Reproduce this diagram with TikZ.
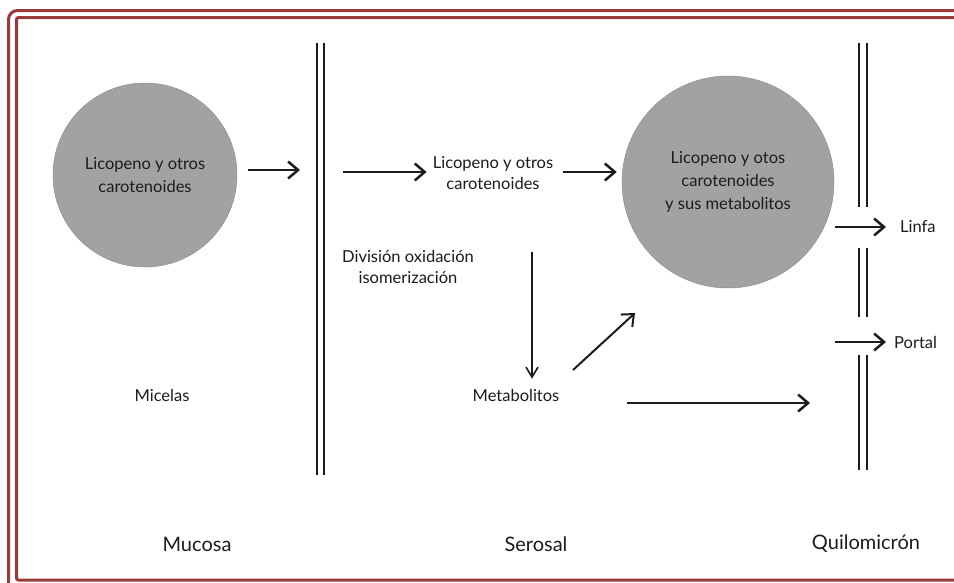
\documentclass[tikz,border=0pt]{standalone}
\usepackage{fontspec}
\setmainfont{Lato}
\usetikzlibrary{arrows.meta,positioning}
\definecolor{framered}{RGB}{155,58,58}
\definecolor{blobgray}{RGB}{162,162,162}
\definecolor{ink}{RGB}{28,28,28}
\tikzset{
  frameline/.style={draw=framered, line width=3pt},
  blob/.style={
    circle,
    fill=blobgray,
    draw=blobgray!88!black,
    line width=0.5pt,
    inner sep=0pt,
    align=center,
    text=ink,
    font=\fontsize{16.5}{23}\selectfont
  },
  lbl/.style={font=\fontsize{16.5}{21}\selectfont, text=ink, align=center, inner sep=0pt},
  zone/.style={font=\fontsize{20}{24}\selectfont, text=ink, inner sep=0pt},
  flow/.style={draw=ink, line width=2.5pt, -{Straight Barb[length=10pt,width=17pt]}},
  thinflow/.style={draw=ink, line width=1.6pt, -{Straight Barb[length=10pt,width=12pt]}},
  wall/.style={draw=ink, double, double distance=5.5pt, line width=2.2pt},
}

\begin{document}
\begin{tikzpicture}[x=1pt, y=-1pt]
  \clip (0,0) rectangle (954,582);
  \fill[white] (0,0) rectangle (954,582);
  % double frame
  \draw[frameline, rounded corners=9pt] (8.5,10.5) rectangle (980,600);
  \draw[frameline, rounded corners=2pt] (16.5,17.5) rectangle (972,580);

  % membranes
  \draw[wall] (320.5,43) -- (320.5,475);
  \foreach \ya/\yb in {43/207, 248/317, 355/470} {
    \draw[wall] (863,\ya) -- (863,\yb);
  }

  % mucosa side
  \node[blob, minimum size=184pt] (lycM) at (145,175) {Licopeno y otros\\carotenoides};
  \node[lbl] (micelas) at (162,395) {Micelas};
  \coordinate (mucIn) at (300,170);
  \draw[flow] (lycM.east |- mucIn) ++(11,0) -- (mucIn);

  % serosal side
  \node[lbl] (lycS) at (493,173) {Licopeno y otros\\carotenoides};
  \node[lbl] (divox) at (408,267) {División oxidación\\isomerización};
  \node[lbl] (metab) at (516,395) {Metabolitos};
  \node[blob, minimum size=212pt] (lycQ) at (728,182) {Licopeno y otos\\carotenoides\\y sus metabolitos};
  \coordinate (serIn) at (343,172);
  \coordinate (split) at (532,252);
  \coordinate (dgA) at (573,370);
  \coordinate (dgB) at (635,313);
  \coordinate (btA) at (627,403);
  \coordinate (btB) at (810,403);
  \draw[flow] (serIn) -- ([xshift=-6pt]lycS.west |- serIn);
  \draw[flow, shorten <=10pt, shorten >=5pt] (lycS.east |- serIn) -- (lycQ.west |- serIn);
  \draw[thinflow] (split) -- ([yshift=10pt]split |- metab.north);
  \draw[flow, line width=2pt] (dgA) -- (dgB);
  \draw[flow] (btA) -- (btB);

  % quilomicron side
  \node[lbl, anchor=west] (linfa) at (900,227) {Linfa};
  \node[lbl, anchor=west] (portal) at (894,342) {Portal};
  \coordinate (lfIn) at (835,227);
  \coordinate (ptIn) at (835,342);
  \draw[flow] (lfIn) -- ([xshift=-14pt]linfa.west);
  \draw[flow] (ptIn) -- ([xshift=-8pt]portal.west);

  % zones
  \node[zone] (mucosa) at (197,544) {Mucosa};
  \node[zone] (serosal) at (536,544) {Serosal};
  \node[zone] (quilo) at (866,544) {Quilomicrón};
\end{tikzpicture}
\end{document}
